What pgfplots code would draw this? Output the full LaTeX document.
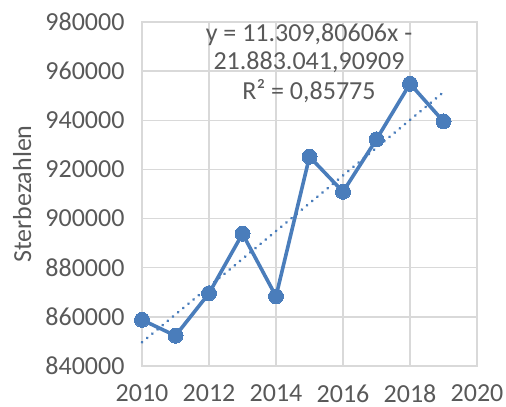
\documentclass[border=0pt]{standalone}
\usepackage{fontspec}
\setmainfont{Carlito}
\usepackage{pgfplots}
\pgfplotsset{compat=1.18}
\definecolor{txt}{HTML}{595959}
\definecolor{grid}{HTML}{D9D9D9}
\definecolor{ser}{RGB}{74,125,187}
\begin{document}
\begin{tikzpicture}
\useasboundingbox (0,0) rectangle (506bp,407bp);
\begin{axis}[
  at={(142bp,41bp)}, anchor=south west,
  scale only axis, width=335bp, height=344bp,
  xmin=2010, xmax=2020, ymin=840000, ymax=980000,
  xtick={2010,2012,...,2020},
  ytick={840000,860000,...,980000},
  scaled ticks=false,
  /pgf/number format/fixed,
  /pgf/number format/precision=0,
  /pgf/number format/1000 sep={},
  /pgf/number format/assume math mode=true,
  grid=major,
  major grid style={draw=grid, line width=1.3bp},
  axis line style={draw=grid, line width=1.3bp},
  major tick length=0pt,
  tick label style={font=\fontsize{26bp}{30bp}\selectfont, text=txt},
  xticklabel style={yshift=-18.5bp, inner ysep=0pt},
  yticklabel style={xshift=-14bp},
  ylabel={Sterbezahlen},
  every axis y label/.style={at={(axis description cs:-0.358,0.5)}, rotate=90, anchor=center},
  ylabel style={font=\fontsize{26bp}{30bp}\selectfont, text=txt},
  clip=false,
]
\addplot[ser, line width=3.6bp, mark=*, mark size=7.5bp, mark options={fill=ser, draw=ser, line width=0pt}]
coordinates {
(2010,858768) (2011,852328) (2012,869582) (2013,893825) (2014,868356)
(2015,925200) (2016,910899) (2017,932263) (2018,954874) (2019,939520)};
\addplot[ser, line width=3bp, dash pattern=on 0.1bp off 6.6bp, line cap=round]
coordinates {(2010,849668.27) (2019,951456.52)};
\node[font=\fontsize{26bp}{30bp}\selectfont, text=txt] at (rel axis cs:0.4985,0.962) {y = 11.309,80606x -};
\node[font=\fontsize{26bp}{30bp}\selectfont, text=txt] at (rel axis cs:0.4985,0.883) {21.883.041,90909};
\node[font=\fontsize{26bp}{30bp}\selectfont, text=txt] at (rel axis cs:0.4985,0.800) {R² = 0,85775};
\end{axis}
\end{tikzpicture}
\end{document}
